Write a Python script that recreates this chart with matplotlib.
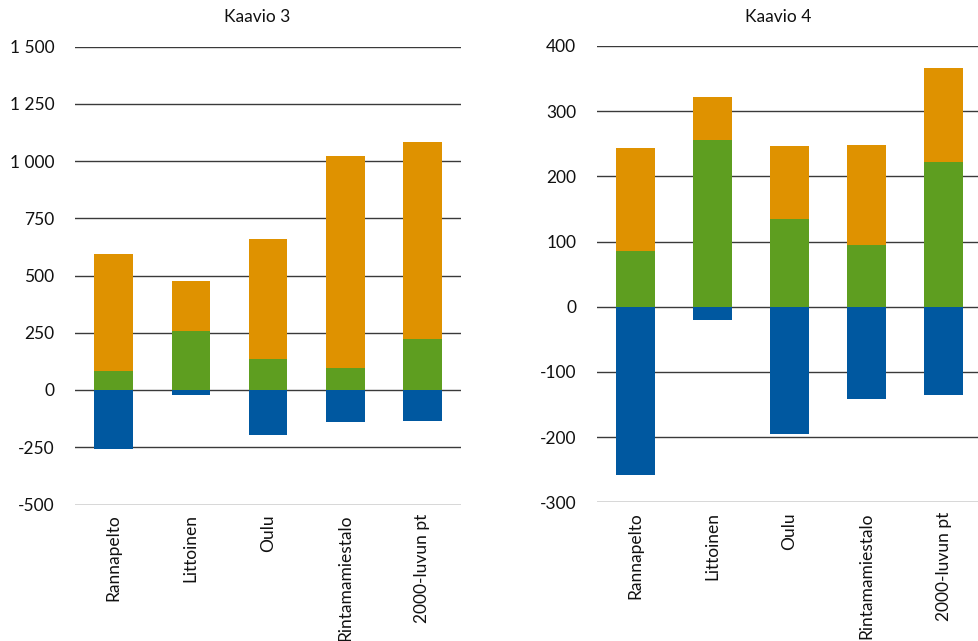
import matplotlib
matplotlib.use("Agg")
import matplotlib.pyplot as plt
import numpy as np

categories = ["Rannapelto", "Littoinen", "Oulu", "Rintamamiestalo", "2000-luvun pt"]

# Shared series (green positive base, blue negative)
green = [85, 256, 135, 95, 222]
blue = [-258, -20, -195, -141, -135]

# Orange segment stacked on green
orange_k3 = [510, 221, 525, 928, 862]
orange_k4 = [159, 66, 112, 153, 144]

k3_ticks = [-500, -250, 0, 250, 500, 750, 1000, 1250, 1500]
k3_ticklabels = ["-500", "-250", "0", "250", "500", "750", "1 000", "1 250", "1 500"]
k4_ticks = [-300, -200, -100, 0, 100, 200, 300, 400]
k4_ticklabels = ["-300", "-200", "-100", "0", "100", "200", "300", "400"]

C_ORANGE = "#DF9200"
C_GREEN = "#5E9E20"
C_BLUE = "#0058A0"

plt.rcParams["font.family"] = ["Lato", "DejaVu Sans"]

W, H = 979, 641
fig = plt.figure(figsize=(W / 100, H / 100), dpi=100)


def make_axes(left, right, top, bottom):
    return fig.add_axes([left / W, 1 - bottom / H, (right - left) / W, (bottom - top) / H])


def draw(ax, orange, ticks, ticklabels, ylim):
    x = np.arange(len(categories))
    ax.set_axisbelow(True)
    ax.bar(x, green, width=0.5, color=C_GREEN, zorder=2)
    ax.bar(x, orange, width=0.5, bottom=green, color=C_ORANGE, zorder=2)
    ax.bar(x, blue, width=0.5, color=C_BLUE, zorder=2)
    ax.set_xlim(-0.5, len(categories) - 0.5)
    ax.set_ylim(*ylim)
    ax.set_yticks(ticks)
    ax.set_yticklabels(ticklabels)
    ax.yaxis.grid(True, color="#3a3a3a", linewidth=1.0)
    for s in ax.spines.values():
        s.set_visible(False)
    ax.tick_params(axis="y", length=0, pad=15, labelsize=12.5, colors="#111111")
    ax.set_xticks(x)
    ax.set_xticklabels(categories, rotation=90, va="top", ha="center")
    ax.tick_params(axis="x", length=0, pad=7, labelsize=12.5, colors="#111111")


ax1 = make_axes(75, 461, 46.5, 504.5)
draw(ax1, orange_k3, k3_ticks, k3_ticklabels, (-500, 1500))

ax2 = make_axes(597, 982, 46, 502.3)
draw(ax2, orange_k4, k4_ticks, k4_ticklabels, (-300, 400))

fig.text(257 / W, 1 - 17 / H, "Kaavio 3", ha="center", va="center", fontsize=12.5, color="#111111")
fig.text(778 / W, 1 - 17 / H, "Kaavio 4", ha="center", va="center", fontsize=12.5, color="#111111")

fig.savefig("out.png", dpi=100)
